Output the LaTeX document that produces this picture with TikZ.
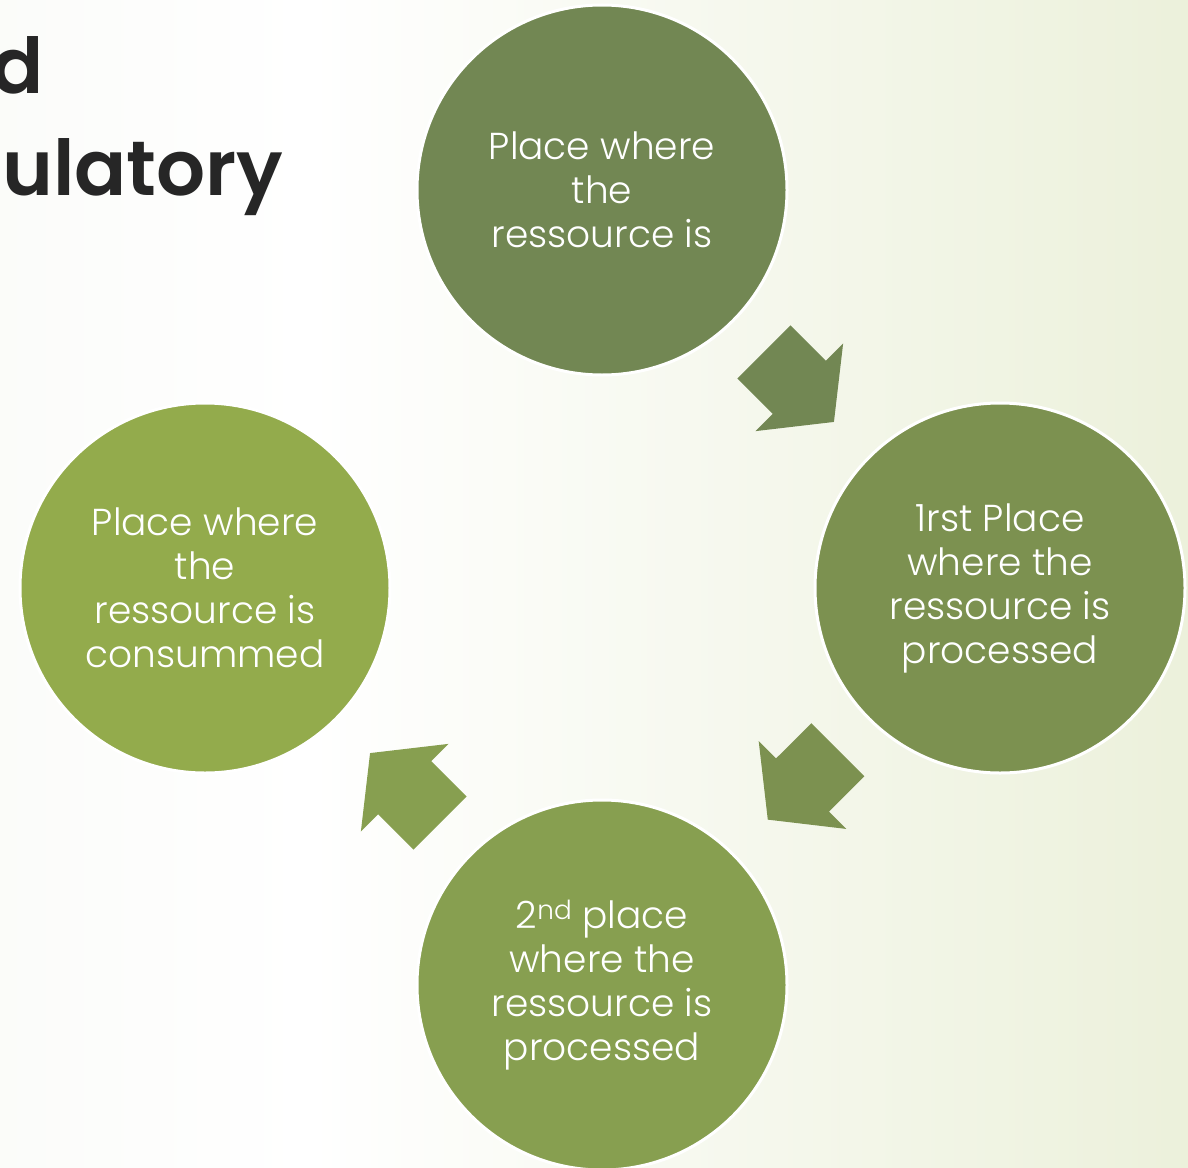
\documentclass[tikz,border=0pt]{standalone}
\usepackage{fontspec}
\setmainfont{Poppins}[UprightFont=* Light, BoldFont=* SemiBold]
\usetikzlibrary{calc}

\definecolor{sourcegreen}{HTML}{728753}
\definecolor{firstgreen}{HTML}{7C9150}
\definecolor{secondgreen}{HTML}{879F50}
\definecolor{consumedgreen}{HTML}{93AB4C}
\definecolor{titlegray}{HTML}{262626}
\definecolor{bgleft}{HTML}{F3F5EE}
\definecolor{bgright}{HTML}{DFE7C3}

\pgfdeclarehorizontalshading{slidebg}{100bp}{color(0bp)=(bgleft); color(38bp)=(white); color(100bp)=(bgright)}

% block arrow between two circles
\newcommand{\flowarrow}[3]{%
  \coordinate (back) at ($(#1)!229pt!(#2)$);
  \coordinate (neck) at ($(#1)!279pt!(#2)$);
  \coordinate (tip) at ($(#1)!328pt!(#2)$);
  \fill[#3] ($(back)!37.5pt!90:(#2)$) -- ($(neck)!37.5pt!90:(#2)$)
    -- ($(neck)!62pt!90:(#2)$) -- (tip) -- ($(neck)!62pt!-90:(#2)$)
    -- ($(neck)!37.5pt!-90:(#2)$) -- ($(back)!37.5pt!-90:(#2)$) -- cycle;
}

\begin{document}
\begin{tikzpicture}[x=1pt, y=-1pt,
  place/.style = {circle, draw=white, line width=3pt, minimum size=370pt,
    inner sep=0pt, align=center, text=white,
    font=\fontsize{37.5}{44}\selectfont},
  title/.style = {inner sep=0pt, text=titlegray,
    font=\fontsize{77}{90}\selectfont\bfseries}]
  \useasboundingbox (0,0) rectangle (1188,1167);
  \shade[shading=slidebg] (0,0) rectangle (1188,1167);

  \node[title, anchor=base east] (titletop) at (44,93) {d};
  \node[title, anchor=base west] (titlebottom) at (2,195) {ulatory};

  \node[place, fill=sourcegreen] (source) at (602,190)
    {Place where\\the\\ressource is};
  \node[place, fill=firstgreen] (first) at (1000,588)
    {1rst Place\\where the\\ressource is\\processed};
  \node[place, fill=secondgreen] (second) at (602,985)
    {2\textsuperscript{nd} place\\where the\\ressource is\\processed};
  \node[place, fill=consumedgreen] (consumed) at (205,588)
    {Place where\\the\\ressource is\\consummed};

  \flowarrow{source}{first}{sourcegreen}
  \flowarrow{first}{second}{firstgreen}
  \flowarrow{second}{consumed}{secondgreen}
\end{tikzpicture}
\end{document}
